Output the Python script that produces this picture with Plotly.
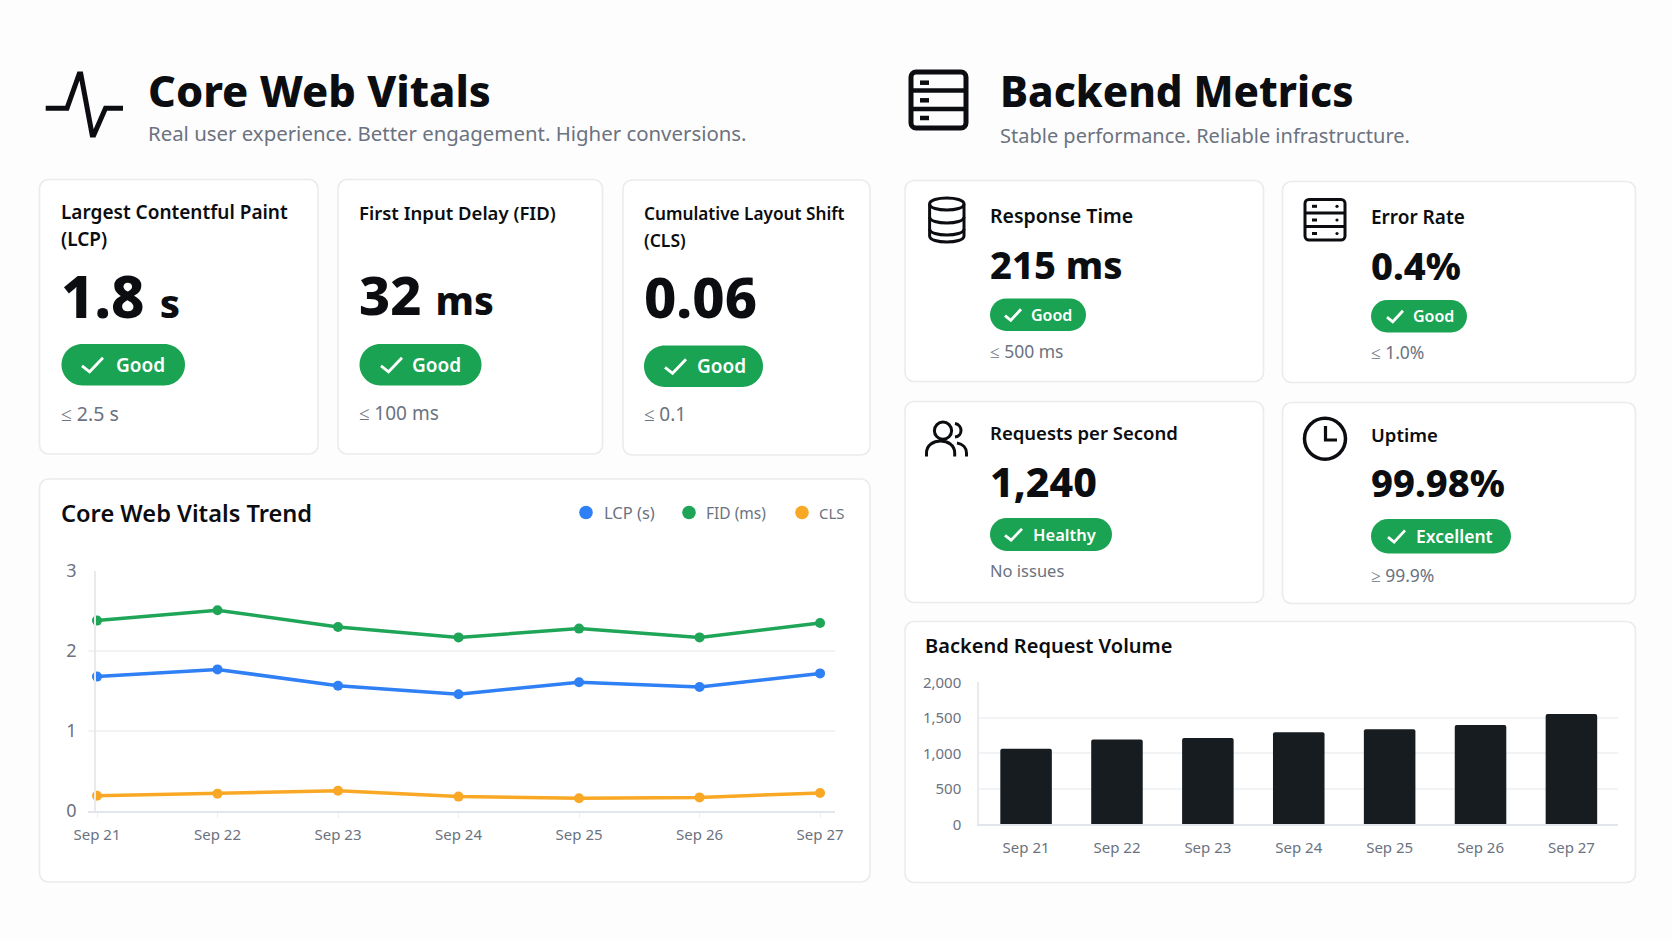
import plotly.graph_objects as go

W, H = 1672, 941
FONT = "Noto Sans"
INK = "#0b0d10"
GREY = "#6b7280"
GREEN = "#1aa352"
BORDER = "#e9ebee"

# ---------- data ----------
dates = ["Sep 21", "Sep 22", "Sep 23", "Sep 24", "Sep 25", "Sep 26", "Sep 27"]
lcp_values = [1.68, 1.77, 1.565, 1.46, 1.61, 1.55, 1.72]
fid_values = [2.38, 2.51, 2.30, 2.17, 2.28, 2.17, 2.35]
cls_values = [0.19, 0.217, 0.254, 0.18, 0.16, 0.17, 0.225]
request_volume = [1065, 1195, 1215, 1295, 1340, 1400, 1555]
trend_ticks = [0, 1, 2, 3]
volume_ticks = [0, 500, 1000, 1500, 2000]
volume_labels = ["0", "500", "1,000", "1,500", "2,000"]
LCP_C, FID_C, CLS_C = "#2f7ff5", "#1fa558", "#f9a825"


def px(x):
    return x / W


def py(y):
    return 1 - y / H


shapes, annos = [], []


def path_of(cmds):
    out = []
    for c in cmds:
        if c == "Z":
            out.append("Z")
        else:
            op, pts = c[0], c[1:]
            out.append(op + " ".join(f"{px(a):.6f},{py(b):.6f}" for a, b in pts))
    return " ".join(out)


def round_rect_cmds(x0, y0, x1, y1, r):
    k = r * 0.45
    return [
        ("M", (x0 + r, y0)), ("L", (x1 - r, y0)),
        ("C", (x1 - k, y0), (x1, y0 + k), (x1, y0 + r)),
        ("L", (x1, y1 - r)),
        ("C", (x1, y1 - k), (x1 - k, y1), (x1 - r, y1)),
        ("L", (x0 + r, y1)),
        ("C", (x0 + k, y1), (x0, y1 - k), (x0, y1 - r)),
        ("L", (x0, y0 + r)),
        ("C", (x0, y0 + k), (x0 + k, y0), (x0 + r, y0)),
        "Z",
    ]


def add_path(cmds, stroke=None, width=0, fill=None):
    shapes.append(dict(
        type="path", xref="paper", yref="paper", layer="below",
        path=path_of(cmds),
        line=dict(color=stroke or "rgba(0,0,0,0)", width=width),
        fillcolor=fill or "rgba(0,0,0,0)",
    ))


def poly(points, stroke=INK, width=3, close=False):
    cmds = [("M", points[0])] + [("L", p) for p in points[1:]]
    if close:
        cmds.append("Z")
    add_path(cmds, stroke=stroke, width=width)


def circle(cx, cy, r, stroke=None, width=0, fill=None):
    shapes.append(dict(
        type="circle", xref="paper", yref="paper", layer="below",
        x0=px(cx - r), x1=px(cx + r), y0=py(cy + r), y1=py(cy - r),
        line=dict(color=stroke or "rgba(0,0,0,0)", width=width),
        fillcolor=fill or "rgba(0,0,0,0)",
    ))


def card(x0, y0, x1, y1):
    add_path(round_rect_cmds(x0, y0, x1, y1, 9), stroke=BORDER, width=1.6, fill="#ffffff")


def text(x, y, s, size, color=INK, weight=400):
    annos.append(dict(
        xref="paper", yref="paper", x=px(x - 1.5), y=py(y), text=s, showarrow=False,
        xanchor="left", yanchor="middle", align="left", borderpad=0,
        font=dict(family=FONT, size=size, color=color, weight=weight),
    ))


def badge(x0, y0, x1, y1, label, tx, size, cx0, cx1):
    add_path(round_rect_cmds(x0, y0, x1, y1, (y1 - y0) / 2 - 0.1), fill=GREEN)
    cy = (y0 + y1) / 2
    h = (y1 - y0) * 0.17
    poly([(cx0, cy + h * 0.15), (cx0 + (cx1 - cx0) * 0.36, cy + h), (cx1, cy - h)],
         stroke="#ffffff", width=2.8)
    text(tx, cy, label, size, "#ffffff", 600)


# ---------- page headings ----------
poly([(45.7, 108.3), (67, 108.3), (79.2, 74), (80.8, 74), (92.2, 135), (93.8, 135),
      (105.5, 108.3), (123, 108.3)], width=5)
text(148, 90, "Core Web Vitals", 43.3, INK, 800)
text(148, 133, "Real user experience. Better engagement. Higher conversions.", 20.4, GREY)

add_path(round_rect_cmds(911, 72, 966, 128, 5), stroke=INK, width=5)
poly([(911, 90.5), (966, 90.5)], width=4.5)
poly([(911, 109), (966, 109)], width=4.5)
for yy in (82.7, 100.3, 118):
    poly([(920, yy), (929, yy)], width=4.5)
text(1000, 90, "Backend Metrics", 42, INK, 800)
text(1000, 135, "Stable performance. Reliable infrastructure.", 20, GREY)

# ---------- left metric cards ----------
card(39.5, 179.5, 318, 454)
text(61.5, 212, "Largest Contentful Paint", 19, INK, 600)
text(61.5, 239, "(LCP)", 19, INK, 600)
text(61.5, 295, '1.8 <span style="font-size:40px">s</span>', 58, INK, 800)
badge(61.5, 344, 185, 385.5, "Good", 116, 19, 82, 103)
text(61.5, 413, "≤ 2.5 s", 19.5, GREY)

card(338, 179.5, 602.5, 454)
text(359, 212, "First Input Delay (FID)", 18.5, INK, 600)
text(359, 294, '32 <span style="font-size:39px">ms</span>', 54, INK, 800)
badge(359.5, 344, 481.5, 385.5, "Good", 412, 19, 381, 402)
text(359, 413, "≤ 100 ms", 19, GREY)

card(623, 180, 870, 455)
text(644, 213, "Cumulative Layout Shift", 17.2, INK, 600)
text(644, 240, "(CLS)", 17.5, INK, 600)
text(644, 296, "0.06", 56, INK, 800)
badge(644, 345.5, 763, 387, "Good", 697, 19, 665, 686)
text(644, 414, "≤ 0.1", 19, GREY)

# ---------- right metric cards ----------
card(905, 180.5, 1263.5, 381.5)
text(990, 215, "Response Time", 19.5, INK, 600)
text(990, 264, "215 ms", 38, INK, 800)
badge(990, 298.5, 1086, 331, "Good", 1031, 16, 1005, 1021)
text(990, 350.5, "≤ 500 ms", 17.5, GREY)

card(1282.5, 181.5, 1635.5, 382.5)
text(1371, 217, "Error Rate", 19, INK, 600)
text(1371, 265, "0.4%", 38, INK, 800)
badge(1371, 300, 1467, 332.5, "Good", 1413, 16, 1387, 1403)
text(1371, 352.5, "≤ 1.0%", 17.5, GREY)

card(905, 401.5, 1263.5, 602.5)
text(990, 432.5, "Requests per Second", 18.5, INK, 600)
text(990, 480.5, "1,240", 41, INK, 800)
badge(990, 518, 1112, 551, "Healthy", 1033, 16.5, 1005, 1022)
text(990, 570.5, "No issues", 16.5, GREY)

card(1282.5, 402.5, 1635.5, 603.5)
text(1371, 435, "Uptime", 18.5, INK, 600)
text(1371, 482, "99.98%", 38, INK, 800)
badge(1371, 519, 1511, 553.5, "Excellent", 1416, 17.5, 1388, 1405)
text(1371, 575, "≥ 99.9%", 17.5, GREY)

# database icon
S = 3
cx, rx = 946.8, 17.2
def arc(y, up=False):
    d = -6.2 if up else 6.2
    return [("M", (cx - rx, y)), ("C", (cx - rx, y + d * 1.3), (cx + rx, y + d * 1.3), (cx + rx, y))]
add_path(arc(204), stroke=INK, width=S)
add_path(arc(204, True), stroke=INK, width=S)
add_path(arc(217), stroke=INK, width=S)
add_path(arc(229), stroke=INK, width=S)
add_path(arc(236), stroke=INK, width=S)
poly([(cx - rx, 204), (cx - rx, 236)], width=S)
poly([(cx + rx, 204), (cx + rx, 236)], width=S)

# small server icon
add_path(round_rect_cmds(1305, 199.5, 1345, 240, 4), stroke=INK, width=S)
poly([(1305, 213), (1345, 213)], width=S)
poly([(1305, 226.5), (1345, 226.5)], width=S)
for yy in (206.3, 220, 233.5):
    poly([(1312, yy), (1317, yy)], width=S)
    circle(1337, yy, 1.6, fill=INK)

# users icon
circle(943, 430.7, 8.6, stroke=INK, width=S)
add_path([("M", (926.5, 456.5)), ("L", (926.5, 453)),
          ("C", (926.5, 437), (954.7, 437), (954.7, 453)), ("L", (954.7, 456.5))],
         stroke=INK, width=S)
add_path([("M", (955, 423.5)), ("C", (963, 425), (963, 436), (955, 437))], stroke=INK, width=S)
add_path([("M", (957, 443)), ("C", (963, 444), (966.5, 448), (966.5, 453)), ("L", (966.5, 456.5))],
         stroke=INK, width=S)

# clock icon
circle(1325, 438.7, 20.5, stroke=INK, width=3.5)
poly([(1325.5, 426), (1325.5, 440), (1337, 440)], width=3.2)

# ---------- chart cards ----------
card(39.5, 479, 870, 882)
text(61, 513, "Core Web Vitals Trend", 23.6, INK, 600)
legend_items = [("LCP (s)", LCP_C, 586, 604, 16.5), ("FID (ms)", FID_C, 689, 706, 15.5), ("CLS", CLS_C, 802, 819, 15)]
for name, col, mx, tx, fs in legend_items:
    circle(mx, 512.5, 6.8, fill=col)
    text(tx, 512.5, name, fs, GREY)

card(905, 621.5, 1635.5, 882.5)
text(925, 645, "Backend Request Volume", 20, INK, 600)

# ---------- traces ----------
fig = go.Figure()
for name, vals, col in [("LCP (s)", lcp_values, LCP_C), ("FID (ms)", fid_values, FID_C), ("CLS", cls_values, CLS_C)]:
    fig.add_trace(go.Scatter(
        x=dates, y=vals, name=name, mode="lines+markers", xaxis="x", yaxis="y",
        line=dict(color=col, width=3.5), marker=dict(color=col, size=10), cliponaxis=False,
        showlegend=False,
    ))
fig.add_trace(go.Bar(
    x=dates, y=request_volume, name="Requests", xaxis="x2", yaxis="y2",
    marker=dict(color="#171c20", line=dict(width=0), cornerradius=2), width=0.567,
    showlegend=False,
))

fig.update_layout(
    width=W, height=H, autosize=False,
    margin=dict(l=0, r=0, t=0, b=0, pad=0),
    paper_bgcolor="#fdfdfd", plot_bgcolor="rgba(0,0,0,0)",
    font=dict(family=FONT, color=GREY),
    shapes=shapes, annotations=annos,
    xaxis=dict(
        domain=[px(88), px(835)], anchor="y", type="category", range=[-0.0747, 6.124], automargin=False,
        showgrid=False, zeroline=False, showline=True, linecolor="#e3e5ec", linewidth=2,
        ticks="outside", ticklen=5, tickcolor="#eceef2", tickwidth=1,
        tickfont=dict(size=15, color=GREY), ticklabelstandoff=4,
    ),
    yaxis=dict(
        domain=[py(811), py(571)], anchor="free", position=px(95), range=[0, 3],
        tickvals=trend_ticks, automargin=False,
        showgrid=True, gridcolor="#f2f3f5", gridwidth=1.5, zeroline=False,
        showline=True, linecolor="#e8eaee", linewidth=1.5,
        ticks="", tickfont=dict(size=18, color=GREY), ticklabelstandoff=14,
    ),
    xaxis2=dict(
        domain=[px(979), px(1617.5)], anchor="y2", type="category", range=[-0.518, 6.507], automargin=False,
        showgrid=False, zeroline=False, showline=True, linecolor="#e3e5ec", linewidth=2,
        ticks="", tickfont=dict(size=15, color=GREY), ticklabelstandoff=9,
    ),
    yaxis2=dict(
        domain=[py(824.3), py(682.3)], anchor="x2", range=[0, 2000], automargin=False,
        tickvals=volume_ticks, ticktext=volume_labels,
        showgrid=True, gridcolor="#f2f3f5", gridwidth=1.5, zeroline=False,
        showline=True, linecolor="#e8eaee", linewidth=1.5, ticks="",
        tickfont=dict(size=15, color=GREY), ticklabelstandoff=13,
    ),
)

fig.write_html(
    "out.html",
    config=dict(displayModeBar=False),
    post_script="document.body.style.margin='0';document.body.style.overflow='hidden';",
)
